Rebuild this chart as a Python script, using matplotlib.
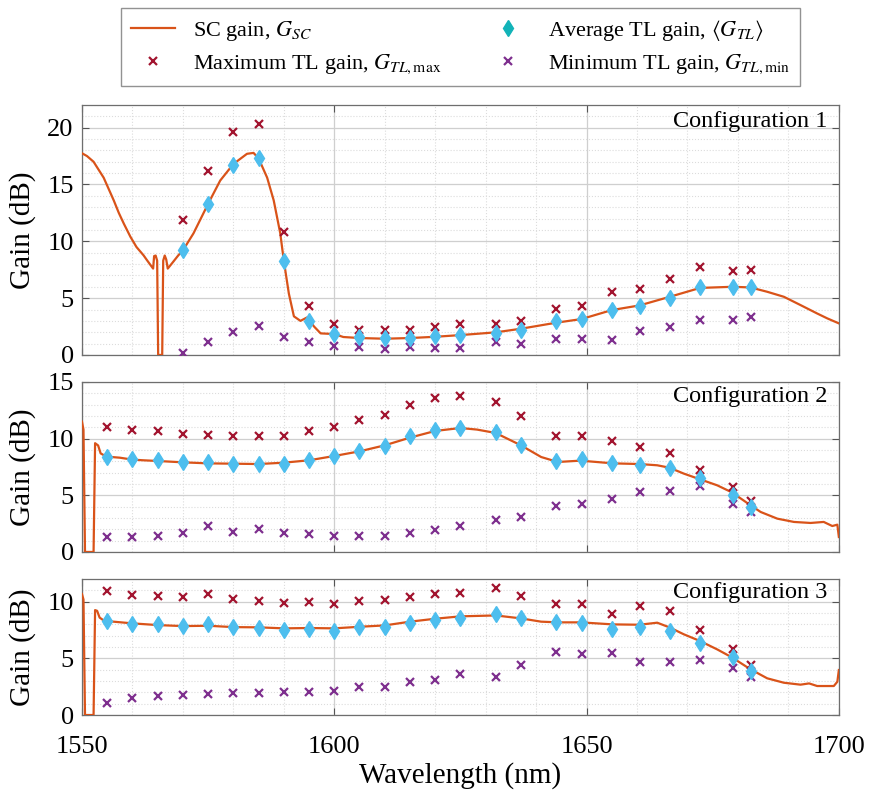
import matplotlib
matplotlib.use('Agg')
import matplotlib.pyplot as plt
from matplotlib.ticker import MultipleLocator
from matplotlib.lines import Line2D

plt.rcParams['font.family'] = ['Liberation Serif', 'DejaVu Serif']
plt.rcParams['mathtext.fontset'] = 'stix'

# wavelengths of the TL measurements (nm)
wl_tl1 = [1570, 1575, 1580, 1585, 1590, 1595, 1600, 1605, 1610, 1615, 1620, 1625,
          1632, 1637, 1644, 1649, 1655, 1660.5, 1666.5, 1672.5, 1679, 1682.5]
wl_tl = [1555, 1560, 1565] + wl_tl1

# configuration 1
max1 = [11.9, 16.2, 19.65, 20.3, 10.8, 4.3, 2.75, 2.2, 2.2, 2.2, 2.45, 2.7,
        2.7, 3.0, 4.05, 4.35, 5.5, 5.8, 6.7, 7.7, 7.4, 7.5]
avg1 = [9.2, 13.3, 16.7, 17.35, 8.3, 3.0, 1.85, 1.55, 1.45, 1.5, 1.65, 1.75,
        1.9, 2.2, 3.0, 3.2, 3.95, 4.35, 5.05, 6.0, 5.95, 5.95]
min1 = [0.15, 1.1, 2.05, 2.55, 1.6, 1.15, 0.75, 0.7, 0.55, 0.7, 0.65, 0.65,
        1.1, 1.0, 1.4, 1.4, 1.3, 2.15, 2.5, 3.1, 3.05, 3.3]

# configuration 2
max2 = [11.0, 10.8, 10.65, 10.45, 10.3, 10.25, 10.25, 10.25, 10.7, 11.05, 11.65, 12.05, 12.95,
        13.55, 13.8, 13.2, 12.0, 10.2, 10.2, 9.75, 9.3, 8.75, 7.25, 5.75, 4.5]
avg2 = [8.4, 8.2, 8.1, 7.95, 7.9, 7.8, 7.8, 7.75, 8.1, 8.45, 8.95, 9.35, 10.2,
        10.75, 10.95, 10.6, 9.45, 8.05, 8.2, 7.85, 7.7, 7.4, 6.55, 5.05, 3.95]
min2 = [1.3, 1.3, 1.4, 1.7, 2.25, 1.8, 2.05, 1.7, 1.6, 1.4, 1.4, 1.4, 1.65,
        1.9, 2.25, 2.8, 3.1, 4.05, 4.25, 4.7, 5.25, 5.4, 5.8, 4.2, 3.5]

# configuration 3
max3 = [10.95, 10.6, 10.5, 10.45, 10.65, 10.25, 10.1, 9.9, 9.95, 9.8, 10.05, 10.15, 10.4,
        10.7, 10.8, 11.2, 10.55, 9.8, 9.8, 8.95, 9.65, 9.2, 7.5, 5.8, 4.4]
avg3 = [8.3, 8.05, 8.0, 7.9, 8.05, 7.8, 7.7, 7.5, 7.6, 7.45, 7.75, 7.75, 8.1,
        8.35, 8.6, 8.9, 8.55, 8.25, 8.15, 7.6, 7.8, 7.45, 6.4, 5.1, 3.9]
min3 = [1.1, 1.5, 1.7, 1.75, 1.85, 1.9, 1.9, 2.0, 2.05, 2.1, 2.45, 2.45, 2.9,
        3.1, 3.65, 3.4, 4.4, 5.6, 5.35, 5.45, 4.65, 4.65, 4.9, 4.15, 3.4]

# SC gain spectra
sc1_wl = [1550, 1551, 1552.3, 1553.3, 1554.3, 1555.3, 1556.3, 1557.3, 1558.3, 1559.6, 1560.8,
          1562.2, 1562.9, 1564.1, 1564.3, 1564.6, 1564.9, 1565.1, 1565.9, 1566.1, 1566.4, 1566.7,
          1567.0, 1567.8, 1569.1, 1570, 1572.1, 1575, 1577.4, 1580, 1582.7, 1584, 1585, 1586.7,
          1588, 1589.3, 1590, 1591, 1592, 1593.3, 1594.6, 1596, 1597.3, 1600, 1601.8, 1605, 1610,
          1615, 1620, 1625, 1632, 1637, 1644, 1649, 1655, 1660.5, 1666.5, 1672.5, 1679, 1682.5,
          1685.8, 1689.1, 1692.4, 1695.7, 1697.7, 1700]
sc1 = [17.75, 17.5, 17.0, 16.3, 15.6, 14.6, 13.6, 12.5, 11.55, 10.4, 9.5,
       8.77, 8.33, 7.6, 8.7, 8.75, 8.3, 0.0, 0.0, 8.3, 8.75, 8.4,
       7.6, 8.04, 8.77, 9.2, 10.7, 13.3, 15.35, 16.8, 17.7, 17.78, 17.3, 15.6,
       13.6, 10.7, 8.3, 5.4, 3.4, 3.0, 3.3, 2.5, 1.9, 1.84, 1.58, 1.49, 1.43,
       1.49, 1.6, 1.75, 1.99, 2.31, 2.84, 3.16, 3.95, 4.36, 5.12, 5.9, 6.0, 5.94,
       5.56, 5.12, 4.39, 3.65, 3.22, 2.78]

sc2_wl = [1550, 1550.3, 1550.6, 1552.3, 1552.6, 1553.2, 1553.7, 1554.5, 1555, 1557.5, 1560,
          1562.2, 1565, 1570, 1575, 1580, 1585, 1590, 1595, 1600, 1605, 1610, 1615, 1620, 1625,
          1628.3, 1632, 1637, 1641, 1644.3, 1648.8, 1655.2, 1660.5, 1664, 1666.4, 1669.3, 1672.5,
          1675.9, 1678.8, 1682.4, 1684.5, 1687.8, 1691.1, 1694.4, 1697, 1698.7, 1699.7, 1700]
sc2 = [11.5, 10.8, 0.0, 0.0, 9.6, 9.4, 8.7, 8.5, 8.41, 8.32, 8.15,
       8.09, 8.03, 7.91, 7.82, 7.79, 7.76, 7.88, 8.09, 8.47, 8.88, 9.41, 10.09, 10.68, 10.94,
       10.8, 10.5, 9.41, 8.38, 7.94, 8.06, 7.82, 7.76, 7.65, 7.44, 6.91, 6.41,
       5.88, 5.26, 4.15, 3.53, 2.94, 2.65, 2.56, 2.65, 2.29, 2.41, 1.32]

sc3_wl = [1550, 1550.3, 1550.6, 1552.3, 1552.6, 1553.0, 1553.5, 1554.2, 1555, 1560, 1565,
          1570, 1575, 1580, 1585, 1590, 1595, 1600, 1605, 1610, 1615, 1620, 1625, 1632, 1637,
          1641, 1644.3, 1648.8, 1655.2, 1660.5, 1664, 1666.4, 1669.3, 1672.5, 1675.9, 1678.8,
          1682.4, 1685.8, 1689.1, 1692.4, 1694.1, 1695.7, 1699, 1699.7, 1700]
sc3 = [10.68, 10.2, 0.0, 0.0, 9.26, 9.2, 8.6, 8.38, 8.29, 8.09, 7.94,
       7.85, 7.88, 7.76, 7.74, 7.65, 7.68, 7.65, 7.79, 7.91, 8.24, 8.5, 8.71, 8.79, 8.53,
       8.24, 8.18, 8.18, 8.0, 7.97, 8.15, 7.74, 7.12, 6.53, 5.79, 5.09,
       4.06, 3.24, 2.85, 2.68, 2.79, 2.56, 2.56, 2.94, 3.97]

c_sc = '#D95319'
c_max = '#A2142F'
c_avg = '#4DBEEE'
c_min = '#7E2F8E'

panels = [
    (sc1_wl, sc1, wl_tl1, max1, avg1, min1, 22, 5, 'Configuration 1'),
    (sc2_wl, sc2, wl_tl, max2, avg2, min2, 15, 5, 'Configuration 2'),
    (sc3_wl, sc3, wl_tl, max3, avg3, min3, 12, 5, 'Configuration 3'),
]
# axes boxes in figure fractions (left, bottom, width, height)
boxes = [(0.094, 0.5535, 0.868, 0.3145),
         (0.094, 0.3057, 0.868, 0.2138),
         (0.094, 0.1006, 0.868, 0.171)]

fig = plt.figure(figsize=(8.72, 7.95), dpi=100)

for i, (p, box) in enumerate(zip(panels, boxes)):
    swl, sc, twl, gmax, gavg, gmin, ytop, ystep, name = p
    ax = fig.add_axes(box)
    ax.plot(swl, sc, color=c_sc, lw=1.6, zorder=3)
    ax.plot(twl, gmax, 'x', color=c_max, ms=6, mew=1.6, zorder=4)
    ax.plot(twl, gmin, 'x', color=c_min, ms=6, mew=1.6, zorder=4)
    ax.plot(twl, gavg, 'd', color=c_avg, ms=8.5, mec=c_avg, zorder=5)
    ax.set_xlim(1550, 1700)
    ax.set_ylim(0, ytop)
    ax.xaxis.set_major_locator(MultipleLocator(50))
    ax.xaxis.set_minor_locator(MultipleLocator(10))
    ax.yaxis.set_major_locator(MultipleLocator(ystep))
    ax.yaxis.set_minor_locator(MultipleLocator(1))
    ax.grid(which='major', color='#cfcfcf', lw=0.9, ls='-')
    ax.grid(which='minor', color='#dcdcdc', lw=0.8, ls=':')
    ax.set_axisbelow(True)
    ax.tick_params(which='major', direction='in', top=True, right=True, length=5,
                   width=0.8, color='#555555', labelsize=19, pad=6)
    ax.tick_params(axis='x', which='major', pad=15)
    ax.tick_params(which='minor', length=0)
    for s in ax.spines.values():
        s.set_color('#6e6e6e')
        s.set_linewidth(0.9)
    ax.set_ylabel('Gain (dB)', fontsize=21, labelpad=8)
    ax.text(0.985, 0.975, name, transform=ax.transAxes, ha='right', va='top', fontsize=17.5)
    if i < 2:
        ax.tick_params(labelbottom=False)
    else:
        ax.set_xlabel('Wavelength (nm)', fontsize=21, labelpad=3)

handles = [
    Line2D([], [], color=c_sc, lw=1.6),
    Line2D([], [], ls='none', marker='x', color=c_max, ms=6, mew=1.6),
    Line2D([], [], ls='none', marker='d', color='#12B3B8', ms=8),
    Line2D([], [], ls='none', marker='x', color=c_min, ms=6, mew=1.6),
]
labels = [r'SC gain, $G_{SC}$', r'Maximum TL gain, $G_{TL,\mathrm{max}}$',
          r'Average TL gain, $\langle G_{TL}\rangle$', r'Minimum TL gain, $G_{TL,\mathrm{min}}$']
fig.legend(handles, labels, ncol=2, loc='upper center', bbox_to_anchor=(0.528, 0.99),
           fontsize=16, frameon=True, fancybox=False, edgecolor='#777777',
           handlelength=2.0, columnspacing=2.0, labelspacing=0.45, borderpad=0.45,
           borderaxespad=0.0)

fig.savefig('out.png', dpi=100)
